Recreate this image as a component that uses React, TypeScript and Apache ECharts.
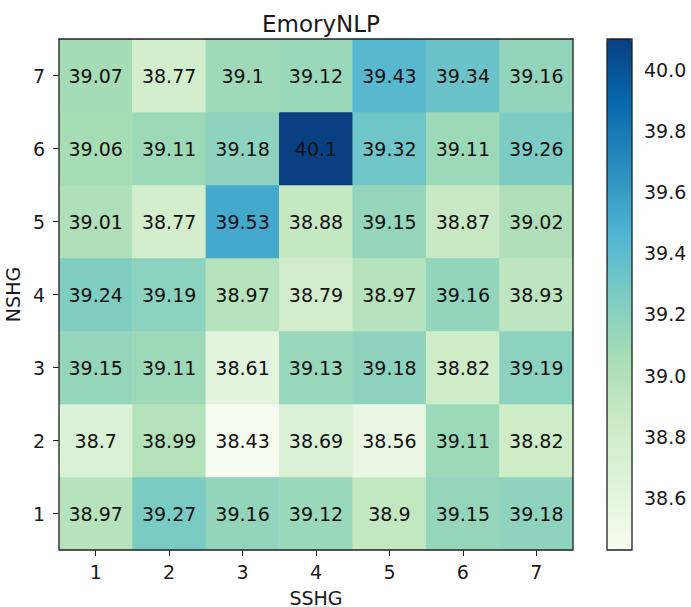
import React, { useEffect, useRef } from "react";
import * as echarts from "echarts";

const sshg = ["1", "2", "3", "4", "5", "6", "7"];
const nshg = ["1", "2", "3", "4", "5", "6", "7"];
// rows by NSHG (1..7), columns by SSHG (1..7)
const row1 = [38.97, 39.27, 39.16, 39.12, 38.9, 39.15, 39.18];
const row2 = [38.7, 38.99, 38.43, 38.69, 38.56, 39.11, 38.82];
const row3 = [39.15, 39.11, 38.61, 39.13, 39.18, 38.82, 39.19];
const row4 = [39.24, 39.19, 38.97, 38.79, 38.97, 39.16, 38.93];
const row5 = [39.01, 38.77, 39.53, 38.88, 39.15, 38.87, 39.02];
const row6 = [39.06, 39.11, 39.18, 40.1, 39.32, 39.11, 39.26];
const row7 = [39.07, 38.77, 39.1, 39.12, 39.43, 39.34, 39.16];
const rows = [row1, row2, row3, row4, row5, row6, row7];
const colorTicks = [38.6, 38.8, 39.0, 39.2, 39.4, 39.6, 39.8, 40.0];
const vMin = 38.43;
const vMax = 40.1;
const gnbu = ["#f7fcf0", "#e0f3db", "#ccebc5", "#a8ddb5", "#7bccc4", "#4eb3d3", "#2b8cbe", "#0868ac", "#084081"];

const FONT = "DejaVu Sans";
const FS = 19;

export default function App() {
  const ref = useRef<HTMLDivElement>(null);
  useEffect(() => {
    document.body.style.margin = "0";
    const chart = echarts.init(ref.current!, null, { renderer: "svg" });
    const data: [number, number, number][] = [];
    rows.forEach((r, yi) => r.forEach((v, xi) => data.push([xi, yi, v])));
    const gl = 59, gt = 39, gw = 514, gh = 511;
    const cbl = 607, cbw = 25;
    chart.setOption({
      animation: false,
      textStyle: { fontFamily: FONT },
      title: {
        text: "EmoryNLP",
        left: gl + gw / 2,
        top: 7,
        textAlign: "center",
        textStyle: { fontFamily: FONT, fontSize: 23, fontWeight: "normal", color: "#1a1a1a" },
      },
      grid: [
        { left: gl, top: gt, width: gw, height: gh, show: true, borderColor: "#222", borderWidth: 1.3, backgroundColor: "transparent", z: 10, containLabel: false, outerBoundsMode: "none" },
        { left: cbl, top: gt, width: cbw, height: gh, show: false, containLabel: false, outerBoundsMode: "none" },
      ],
      xAxis: [
        {
          type: "category",
          gridIndex: 0,
          data: sshg,
          name: "SSHG",
          nameLocation: "middle",
          nameGap: 38,
          nameTextStyle: { fontFamily: FONT, fontSize: FS, color: "#1a1a1a" },
          axisLine: { show: false },
          axisTick: { show: true, alignWithLabel: true, length: 6, lineStyle: { color: "#222" } },
          axisLabel: { fontFamily: FONT, fontSize: FS, color: "#1a1a1a", margin: 12 },
          splitLine: { show: false },
        },
        { type: "value", gridIndex: 1, show: false, min: 0, max: 1 },
      ],
      yAxis: [
        {
          type: "category",
          gridIndex: 0,
          data: nshg,
          name: "NSHG",
          nameLocation: "middle",
          nameGap: 34,
          nameTextStyle: { fontFamily: FONT, fontSize: FS, color: "#1a1a1a" },
          axisLine: { show: false },
          axisTick: { show: true, alignWithLabel: true, length: 6, lineStyle: { color: "#222" } },
          axisLabel: { fontFamily: FONT, fontSize: FS, color: "#1a1a1a", margin: 14 },
          splitLine: { show: false },
        },
        {
          type: "value",
          gridIndex: 1,
          position: "right",
          min: vMin,
          max: vMax,
          axisLine: { show: false },
          splitLine: { show: false },
          axisTick: { show: true, length: 6, customValues: colorTicks, lineStyle: { color: "#222" } },
          axisLabel: {
            customValues: colorTicks,
            fontFamily: FONT,
            fontSize: FS,
            color: "#1a1a1a",
            margin: 12,
            formatter: (v: number) => v.toFixed(1),
          },
        },
      ],
      visualMap: {
        type: "continuous",
        seriesIndex: 0,
        min: vMin,
        max: vMax,
        calculable: false,
        orient: "vertical",
        left: cbl,
        top: gt,
        itemWidth: cbw,
        itemHeight: gh,
        padding: 0,
        inRange: { color: gnbu },
      },
      graphic: [
        {
          type: "rect",
          shape: { x: cbl, y: gt, width: cbw, height: gh },
          style: { fill: "none", stroke: "#222", lineWidth: 1.3 },
          z: 100,
        },
      ],
      series: [
        {
          type: "heatmap",
          xAxisIndex: 0,
          yAxisIndex: 0,
          data,
          label: {
            show: true,
            fontFamily: FONT,
            fontSize: FS,
            color: "#111",
            formatter: (p: any) => String(p.value[2]),
          },
          itemStyle: { borderWidth: 0 },
          emphasis: { disabled: true },
        },
      ],
    });
    return () => chart.dispose();
  }, []);
  return <div ref={ref} style={{ width: 691, height: 607 }} />;
}
